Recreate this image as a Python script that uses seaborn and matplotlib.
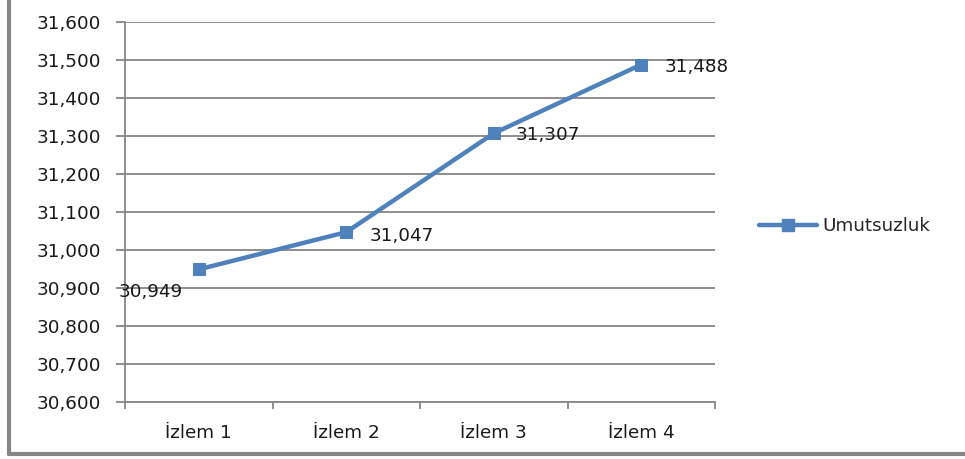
import pandas as pd
import numpy as np
import matplotlib
matplotlib.use("Agg")
import matplotlib.pyplot as plt
from matplotlib.lines import Line2D
import seaborn as sns

# chart data
categories = ["İzlem 1", "İzlem 2", "İzlem 3", "İzlem 4"]
values = [30.949, 31.047, 31.307, 31.488]
series_name = "Umutsuzluk"
y_ticks = [30.6, 30.7, 30.8, 30.9, 31.0, 31.1, 31.2, 31.3, 31.4, 31.5, 31.6]

# label offsets in points (first label was moved down-left in the original)
label_offsets = [(-35, -16), (17, -3), (16, -1), (17, -2)]

LINE_COLOR = "#4F81BD"
AXIS_GRAY = "#868686"
FS = 13.2


def fmt(v):
    return f"{v * 1000:,.0f}"


sns.set_style("white")
plt.rcParams['font.family'] = ['DejaVu Sans']

df = pd.DataFrame({"cat": categories, "val": values, "x": np.arange(len(categories))})

fig = plt.figure(figsize=(9.65, 4.59), dpi=100)
ax = fig.add_axes([125 / 965, 1 - 402 / 459, 590 / 965, 380 / 459])

sns.lineplot(data=df, x="x", y="val", ax=ax, color=LINE_COLOR, linewidth=3.2,
             marker="s", markersize=8, markeredgecolor=LINE_COLOR, legend=False)

for i, (x, v) in enumerate(zip(df["x"], df["val"])):
    ax.annotate(fmt(v), (x, v), xytext=label_offsets[i], textcoords="offset points",
                ha="left" if label_offsets[i][0] > 0 else "center", va="center",
                fontsize=FS, color="#1a1a1a")

ax.set_xlim(-0.5, len(categories) - 0.5)
ax.set_ylim(y_ticks[0], y_ticks[-1])
ax.set_yticks(y_ticks)
ax.set_yticklabels([fmt(t) for t in y_ticks], fontsize=FS, color="#1a1a1a")
ax.set_xticks(np.arange(len(categories)))
ax.set_xticklabels(categories, fontsize=FS, color="#1a1a1a")
ax.set_xticks(np.arange(-0.5, len(categories)), minor=True)
ax.tick_params(axis="x", which="major", bottom=True, length=0, pad=16)
ax.tick_params(axis="x", which="minor", bottom=True, length=5, width=1.3, color=AXIS_GRAY,
               direction="out")
ax.tick_params(axis="y", left=True, length=6.5, width=1.3, color=AXIS_GRAY, direction="out", pad=11)
ax.set_xlabel("")
ax.set_ylabel("")

ax.yaxis.grid(True, color=AXIS_GRAY, linewidth=1.3)
ax.xaxis.grid(False)
ax.set_axisbelow(True)
for s in ["top", "right"]:
    ax.spines[s].set_visible(False)
for s in ["left", "bottom"]:
    ax.spines[s].set_color(AXIS_GRAY)
    ax.spines[s].set_linewidth(1.3)

handle = Line2D([], [], color=LINE_COLOR, linewidth=3.2, marker="s", markersize=8)
fig.legend([handle], [series_name], loc="center left", bbox_to_anchor=(742 / 965, 1 - 226 / 459),
           frameon=False, fontsize=FS, handlelength=3.2, handletextpad=0.3)

# outer chart border (left and bottom edges visible)
fig.add_artist(Line2D([9 / 965, 9 / 965], [1 - 454 / 459, 1.0], transform=fig.transFigure,
                      color=AXIS_GRAY, linewidth=3))
fig.add_artist(Line2D([9 / 965, 1.0], [1 - 454 / 459, 1 - 454 / 459], transform=fig.transFigure,
                      color=AXIS_GRAY, linewidth=3))

fig.savefig("out.png", dpi=100)
